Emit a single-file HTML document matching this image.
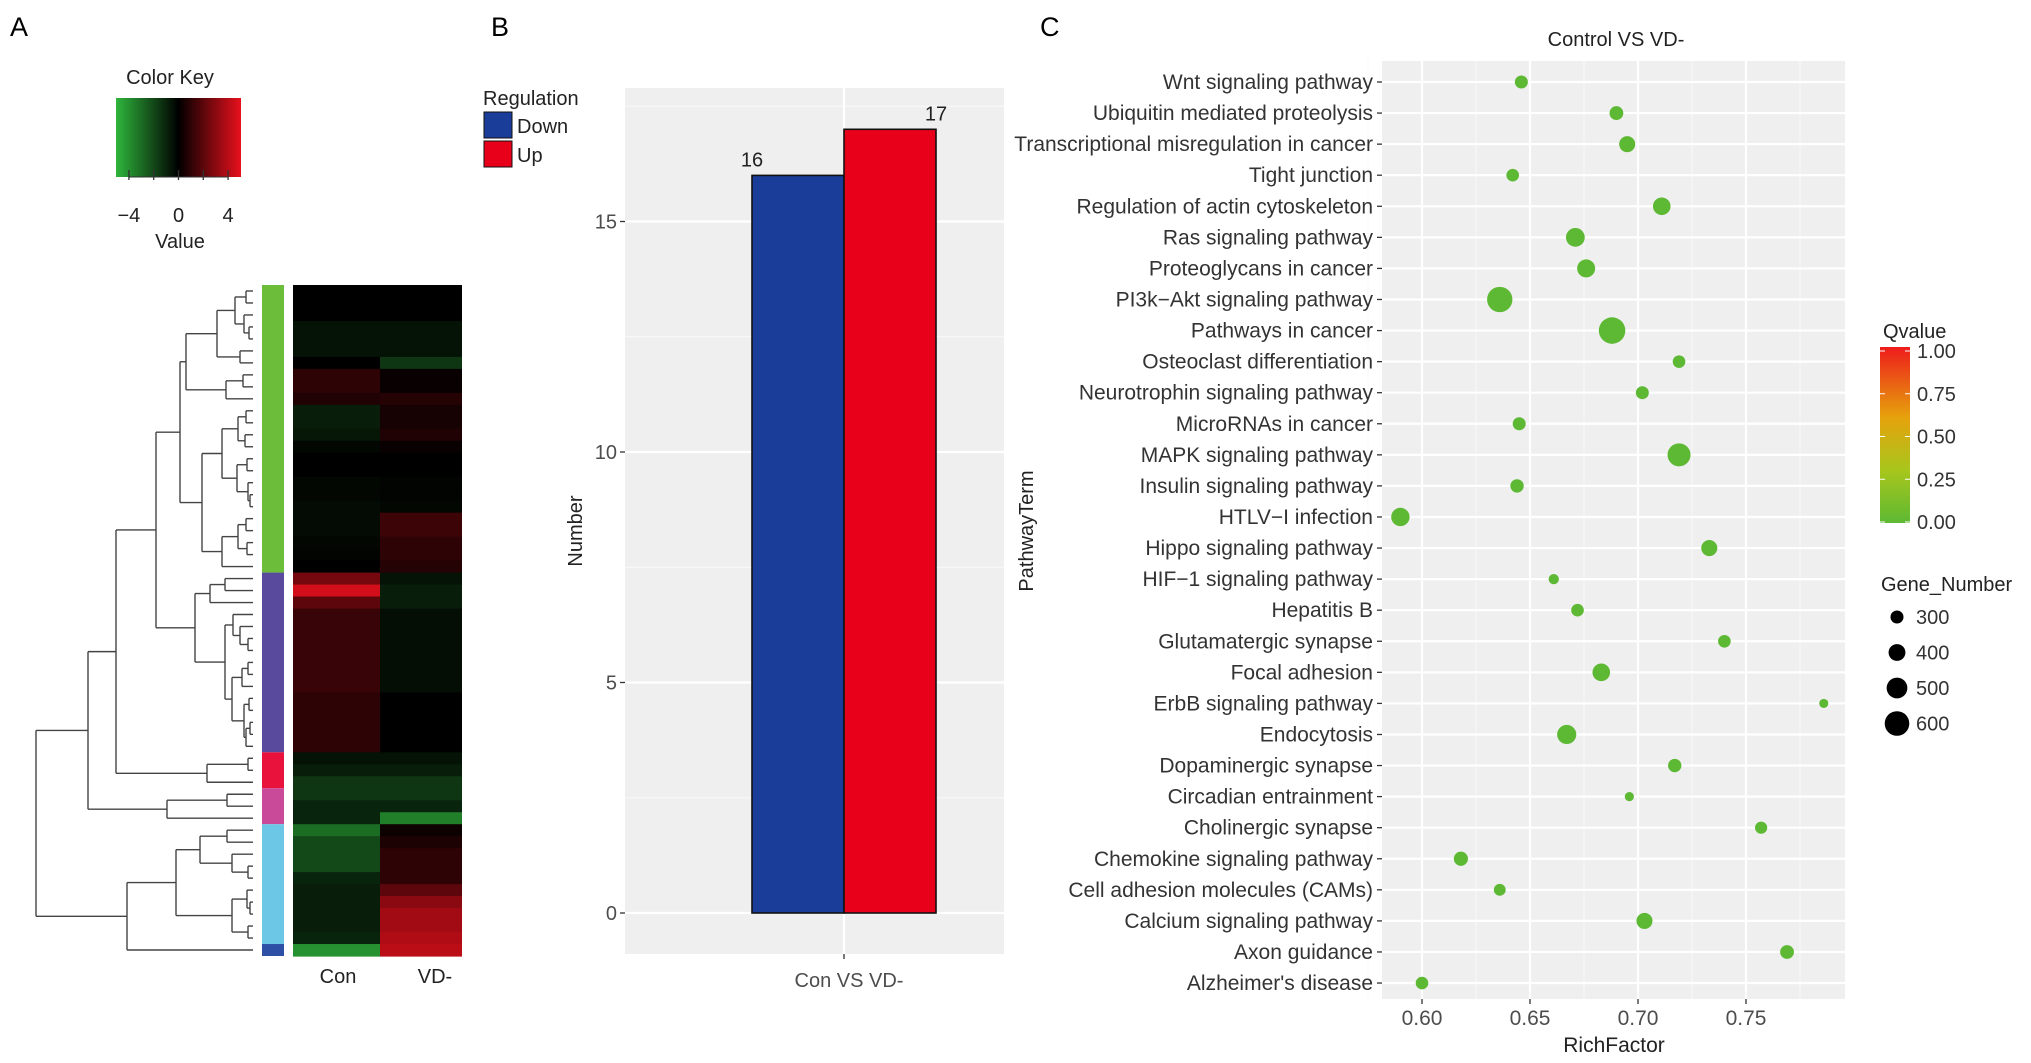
<!DOCTYPE html>
<html><head><meta charset="utf-8"><style>
html,body{margin:0;padding:0;background:#fff;}
svg{display:block;font-family:"Liberation Sans",sans-serif;}
</style></head><body>
<svg id="fig" width="2031" height="1063" viewBox="0 0 2031 1063" xmlns="http://www.w3.org/2000/svg">
<defs>
<linearGradient id="keyGrad" x1="0" x2="1" y1="0" y2="0">
<stop offset="0" stop-color="#2fb53c"/><stop offset="0.5" stop-color="#000"/><stop offset="1" stop-color="#e8101c"/>
</linearGradient>
<linearGradient id="qGrad" x1="0" x2="0" y1="1" y2="0">
<stop offset="0" stop-color="#5db933"/><stop offset="0.3" stop-color="#a8c61c"/><stop offset="0.6" stop-color="#e6a20c"/><stop offset="1" stop-color="#ee1c1c"/>
</linearGradient>
</defs>
<text x="10" y="36" font-size="27">A</text>
<text x="491" y="36" font-size="27">B</text>
<text x="1040" y="36" font-size="27">C</text>
<g id="panelA"></g>
<g id="panelB"></g>
<g id="panelC"></g>
</svg>
<script>
// ---------- Panel A data ----------
const conVals = [0,0,0,-0.5,-0.5,-0.5,0,1,1,0.7,-0.8,-0.8,-0.6,-0.2,0,0,-0.2,-0.2,-0.3,-0.3,-0.3,-0.2,-0.1,0,
 2.5,4.5,2,1.2,1.2,1.2,1.2,1.2,1.2,1.2,1.0,1.0,1.0,1.0,1.0,
 -0.5,-0.8,-1.5,-1.5,-1,-1,-3,-2,-2,-2,-1,-0.8,-0.8,-0.8,-0.8,-1,-4];
const vdVals = [0,0,0,-0.5,-0.5,-0.5,-1.5,0.2,0.2,0.8,0.5,0.5,0.7,0.2,0,0,-0.1,-0.1,-0.2,1.3,1.3,1,1,0.8,
 -0.5,-0.8,-0.8,-0.4,-0.4,-0.4,-0.4,-0.4,-0.4,-0.4,0,0,0,0,0,
 -0.5,-0.8,-1.5,-1.5,-1,-3.5,0.3,0.6,1,1,1,2,3,3.5,3.5,3.8,4];
const groupSizes = [24,15,3,3,10,1];
const groupColors = ["#6cbd3a","#5a4a9e","#e8123c","#c94a98","#6cc7e6","#2d4fa6"];
const keyTicks = [-4,-2,0,2,4];
const dendro = [36,
 [88,
  [116,
   [156,
    [180,
     [186,[217,[235,[246,0,1],[244,2,[249,3,4]]],[240,5,6]],[226,[243,7,8],9]],
     [202,[222,[238,[246,10,11],[245,12,13]],[237,[247,14,15],[248,16,[250,17,18]]]],[222,[238,[246,19,20],[247,21,22]],23]]],
    [195,[210,[225,24,25],26],[225,[233,27,[240,28,[248,29,30]]],[232,[242,[248,31,32],33],[244,[249,34,35],[246,[250,36,37],38]]]]]],
   [207,[248,39,40],41]],
  [167,[227,42,43],44]],
 [127,[176,[200,[227,45,46],[232,47,[248,48,49]]],[232,[247,50,[250,51,52]],[248,53,54]]],55]];

// ---------- Panel B data ----------
const barCats = ["Down","Up"];
const barVals = [16,17];
const barColors = ["#1a3d99","#e8001a"];
const barTicks = [0,5,10,15];

// ---------- Panel C data ----------
const pathways = ["Wnt signaling pathway","Ubiquitin mediated proteolysis","Transcriptional misregulation in cancer","Tight junction","Regulation of actin cytoskeleton","Ras signaling pathway","Proteoglycans in cancer","PI3k\u2212Akt signaling pathway","Pathways in cancer","Osteoclast differentiation","Neurotrophin signaling pathway","MicroRNAs in cancer","MAPK signaling pathway","Insulin signaling pathway","HTLV\u2212I infection","Hippo signaling pathway","HIF\u22121 signaling pathway","Hepatitis B","Glutamatergic synapse","Focal adhesion","ErbB signaling pathway","Endocytosis","Dopaminergic synapse","Circadian entrainment","Cholinergic synapse","Chemokine signaling pathway","Cell adhesion molecules (CAMs)","Calcium signaling pathway","Axon guidance","Alzheimer's disease"];
const richFactor = [0.646,0.690,0.695,0.642,0.711,0.671,0.676,0.636,0.688,0.719,0.702,0.645,0.719,0.644,0.590,0.733,0.661,0.672,0.740,0.683,0.786,0.667,0.717,0.696,0.757,0.618,0.636,0.703,0.769,0.600];
const geneNumber = [300,320,380,290,420,450,430,620,650,290,300,300,560,310,440,380,230,290,290,420,200,460,310,200,280,330,270,380,320,290];
const qValue = [0,0,0,0,0,0,0,0,0,0,0,0,0,0,0,0,0,0,0,0,0,0,0,0,0,0,0,0,0,0];
const xTicks = [0.60,0.65,0.70,0.75];
const qTicks = [0,0.25,0.5,0.75,1.0];
const sizeLegend = [300,400,500,600];

const NS="http://www.w3.org/2000/svg";
function mk(parent,tag,attrs,text){const e=document.createElementNS(NS,tag);for(const k in attrs)e.setAttribute(k,attrs[k]);if(text!==undefined)e.textContent=text;parent.appendChild(e);return e;}

// ===== Panel A =====
(function(){
 const g=document.getElementById('panelA');
 const hx0=293,hxm=380,hx1=462,hy0=285,hy1=956,n=conVals.length,rh=(hy1-hy0)/n;
 function col(v){const t=Math.max(-1,Math.min(1,v/5));if(t>=0){return `rgb(${Math.round(232*t)},${Math.round(16*t)},${Math.round(28*t)})`;}const s=-t;return `rgb(${Math.round(47*s)},${Math.round(181*s)},${Math.round(60*s)})`;}
 const rowY=i=>hy0+i*rh;
 for(let i=0;i<n;i++){
  const a=mk(g,'rect',{x:hx0,y:rowY(i),width:hxm-hx0,height:rh+0.6,fill:col(conVals[i])});
  
  
  const b=mk(g,'rect',{x:hxm,y:rowY(i),width:hx1-hxm,height:rh+0.6,fill:col(vdVals[i])});
  
  
 }
 let start=0;
 groupSizes.forEach((s,k)=>{const r=mk(g,'rect',{x:262,y:rowY(start),width:22,height:s*rh,fill:groupColors[k]});
  
  
  start+=s;});
 mk(g,'text',{x:338,y:983,'font-size':20,'text-anchor':'middle',fill:'#222'},'Con');
 mk(g,'text',{x:435,y:983,'font-size':20,'text-anchor':'middle',fill:'#222'},'VD-');
 const dg=mk(g,'g',{stroke:'#444','stroke-width':1.4,fill:'none'});
 
 
 function draw(node){
  if(typeof node==='number') return {x:253,y:hy0+(node+0.5)*rh};
  const x=node[0];const ch=node.slice(1).map(draw);
  ch.forEach(c=>mk(dg,'line',{x1:x,y1:c.y,x2:c.x,y2:c.y}));
  const ys=ch.map(c=>c.y);mk(dg,'line',{x1:x,y1:Math.min(...ys),x2:x,y2:Math.max(...ys)});
  return {x:x,y:(ys[0]+ys[ys.length-1])/2};
 }
 draw(dendro);
 mk(g,'text',{x:170,y:84,'font-size':20,'text-anchor':'middle',fill:'#222'},'Color Key');
 const kb=mk(g,'rect',{x:116,y:98,width:125,height:79,fill:'url(#keyGrad)'});
 
 
 const kx=v=>178.5+v*12.4;
 keyTicks.forEach(v=>{mk(g,'line',{x1:kx(v),x2:kx(v),y1:170,y2:180,stroke:'#333','stroke-width':1.3});
  if(v%4===0){const t=mk(g,'text',{x:kx(v),y:222,'font-size':20,'text-anchor':'middle',fill:'#222'},v<0?'\u2212'+(-v):String(v));
   }});
 mk(g,'line',{x1:kx(-4),x2:kx(4),y1:177,y2:177,stroke:'#333','stroke-width':1});
 mk(g,'text',{x:180,y:248,'font-size':20,'text-anchor':'middle',fill:'#222'},'Value');
})();

// ===== Panel B =====
(function(){
 const g=document.getElementById('panelB');
 const px0=625,px1=1004,py0=88,py1=954;
 const y=v=>913-v*46.1;
 mk(g,'rect',{x:px0,y:py0,width:px1-px0,height:py1-py0,fill:'#efefef'});
 [2.5,7.5,12.5,17.5].forEach(v=>mk(g,'line',{x1:px0,x2:px1,y1:y(v),y2:y(v),stroke:'#f8f8f8','stroke-width':1.2}));
 barTicks.forEach(v=>{mk(g,'line',{x1:px0,x2:px1,y1:y(v),y2:y(v),stroke:'#fff','stroke-width':2.2});
  mk(g,'line',{x1:px0-5,x2:px0,y1:y(v),y2:y(v),stroke:'#333','stroke-width':1.3});
  const t=mk(g,'text',{x:px0-8,y:y(v)+7,'font-size':20,'text-anchor':'end',fill:'#4d4d4d'},String(v));
  });
 mk(g,'line',{x1:844,x2:844,y1:py0,y2:py1,stroke:'#fff','stroke-width':2.2});
 mk(g,'line',{x1:844,x2:844,y1:py1,y2:py1+5,stroke:'#333','stroke-width':1.3});
 const bw=92;
 barVals.forEach((v,i)=>{const bx=844-bw+i*bw;
  const r=mk(g,'rect',{x:bx,y:y(v),width:bw,height:y(0)-y(v),fill:barColors[i],stroke:'#111','stroke-width':1.6});
  
  
  const t=mk(g,'text',{x:bx+(i===0?0:bw),y:y(v)-9,'font-size':20,'text-anchor':'middle',fill:'#222'},String(v));
  });
 mk(g,'text',{x:849,y:987,'font-size':20,'text-anchor':'middle',fill:'#4d4d4d'},'Con VS VD-');
 mk(g,'text',{x:582,y:531,'font-size':20,'text-anchor':'middle',fill:'#222',transform:'rotate(-90 582 531)'},'Number');
 mk(g,'text',{x:483,y:105,'font-size':20,fill:'#222'},'Regulation');
 barCats.forEach((c,i)=>{const r=mk(g,'rect',{x:484,y:112+i*29,width:28,height:26,fill:barColors[i],stroke:'#111','stroke-width':1});
  
  const t=mk(g,'text',{x:517,y:133+i*29,'font-size':20,fill:'#222'},c);
  });
})();

// ===== Panel C =====
(function(){
 const g=document.getElementById('panelC');
 const px0=1382,px1=1845,py0=61,py1=999;
 const x=v=>1422+(v-0.60)*2160;
 const y=i=>82+i*31.07;
 const r=n=>Math.max(3,6.5+(n-300)*0.0193);
 function qcol(q){return q<0.15?'#5db933':'#e6a20c';}
 mk(g,'rect',{x:px0,y:py0,width:px1-px0,height:py1-py0,fill:'#efefef'});
 xTicks.forEach(v=>mk(g,'line',{x1:x(v+0.025),x2:x(v+0.025),y1:py0,y2:py1,stroke:'#f8f8f8','stroke-width':1.2}));
 mk(g,'line',{x1:x(0.575),x2:x(0.575),y1:py0,y2:py1,stroke:'#f8f8f8','stroke-width':1.2});
 pathways.forEach((p,i)=>{mk(g,'line',{x1:px0,x2:px1,y1:y(i),y2:y(i),stroke:'#fff','stroke-width':2.2});
  mk(g,'line',{x1:px0-5,x2:px0,y1:y(i),y2:y(i),stroke:'#333','stroke-width':1.3});
  const t=mk(g,'text',{x:px0-9,y:y(i)+7,'font-size':21,'text-anchor':'end',fill:'#333'},p);
  });
 xTicks.forEach(v=>{mk(g,'line',{x1:x(v),x2:x(v),y1:py0,y2:py1,stroke:'#fff','stroke-width':2.2});
  mk(g,'line',{x1:x(v),x2:x(v),y1:py1,y2:py1+5,stroke:'#333','stroke-width':1.3});
  const t=mk(g,'text',{x:x(v),y:py1+26,'font-size':21,'text-anchor':'middle',fill:'#4d4d4d'},v.toFixed(2));
  });
 pathways.forEach((p,i)=>{const c=mk(g,'circle',{cx:x(richFactor[i]),cy:y(i),r:r(geneNumber[i]),fill:qcol(qValue[i])});
  
  });
 mk(g,'text',{x:1616,y:46,'font-size':20,'text-anchor':'middle',fill:'#222'},'Control VS VD-');
 mk(g,'text',{x:1614,y:1052,'font-size':21,'text-anchor':'middle',fill:'#222'},'RichFactor');
 mk(g,'text',{x:1033,y:531,'font-size':20,'text-anchor':'middle',fill:'#222',transform:'rotate(-90 1033 531)'},'PathwayTerm');
 mk(g,'text',{x:1883,y:338,'font-size':20,fill:'#222'},'Qvalue');
 const qb=mk(g,'rect',{x:1880,y:347,width:30,height:176,fill:'url(#qGrad)'});
 
 
 const qy=q=>522-q*171;
 qTicks.forEach(q=>{mk(g,'line',{x1:1880,x2:1885,y1:qy(q),y2:qy(q),stroke:'#fff','stroke-width':1});mk(g,'line',{x1:1905,x2:1910,y1:qy(q),y2:qy(q),stroke:'#fff','stroke-width':1});
  const t=mk(g,'text',{x:1917,y:qy(q)+7,'font-size':20,fill:'#333'},q.toFixed(2));
  });
 mk(g,'text',{x:1881,y:591,'font-size':20,fill:'#222'},'Gene_Number');
 sizeLegend.forEach((n,k)=>{const cy=617+k*35.5;
  const c=mk(g,'circle',{cx:1897,cy:cy,r:r(n),fill:'#000'});
  
  const t=mk(g,'text',{x:1916,y:cy+7,'font-size':20,fill:'#333'},String(n));
  });
})();
</script>
</body></html>
